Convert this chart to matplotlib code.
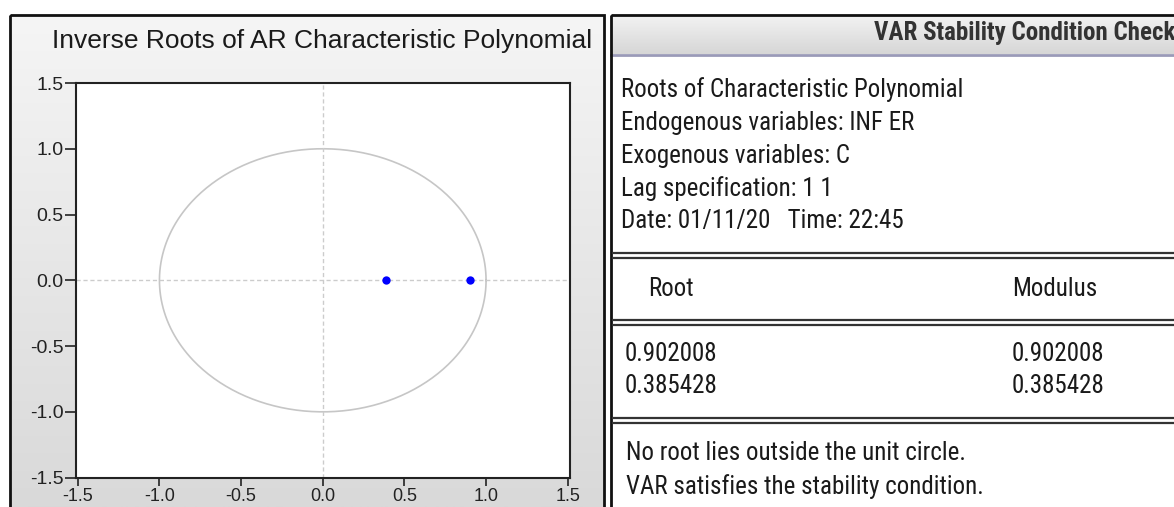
import numpy as np
import matplotlib
matplotlib.use('Agg')
from matplotlib import pyplot as plt
from matplotlib import font_manager
from matplotlib.colors import LinearSegmentedColormap
from matplotlib.patches import Rectangle

# inverse roots of the AR characteristic polynomial (real, imag)
root_re = [0.902008, 0.385428]
root_im = [0.0, 0.0]
modulus = [0.902008, 0.385428]
ticks = [-1.5, -1.0, -0.5, 0.0, 0.5, 1.0, 1.5]

info_lines = ['Roots of Characteristic Polynomial',
              'Endogenous variables: INF ER',
              'Exogenous variables: C',
              'Lag specification: 1 1',
              'Date: 01/11/20   Time: 22:45']
foot_lines = ['No root lies outside the unit circle.',
              'VAR satisfies the stability condition.']


# look for a condensed sans face for the EViews table (Arial Narrow look-alike)
def find_narrow(bold=False):
    pick = None
    for f in font_manager.fontManager.ttflist:
        if f.style != 'normal':
            continue
        isbold = f.weight in ('bold', 700, 'semibold', 600)
        if isbold != bold:
            continue
        cond = f.stretch in ('condensed', 'semi-condensed', 'extra-condensed', 375, 300)
        if f.name in ('Liberation Sans Narrow', 'Arial Narrow', 'Roboto Condensed') or \
           (cond and f.name in ('Roboto', 'Open Sans', 'Noto Sans', 'DejaVu Sans', 'Liberation Sans')):
            if pick is None or f.name.startswith('Liberation') or f.name.startswith('Roboto'):
                pick = f.fname
    return pick


nf = find_narrow()
nb = find_narrow(True) or nf


def narrow(size, bold=False):
    path = nb if bold else nf
    if path:
        return font_manager.FontProperties(fname=path, size=size)
    return font_manager.FontProperties(family='Liberation Sans', size=size,
                                       weight='bold' if bold else 'normal')


W, H = 1174, 507
fig = plt.figure(figsize=(W / 100, H / 100), dpi=100)
fig.patch.set_facecolor('white')

# pixel-space helper axes for the screenshot frames and table text
bg = fig.add_axes([0, 0, 1, 1])
bg.set_xlim(0, W)
bg.set_ylim(H, 0)
bg.axis('off')

# left panel: grey gradient inside a black frame
grad = np.linspace(0, 1, 256).reshape(-1, 1)
bg.imshow(grad, cmap=LinearSegmentedColormap.from_list('g', ['#f5f5f5', '#d9d9d9']),
          extent=(10, 604, H, 15), aspect='auto', zorder=0)
bg.add_patch(Rectangle((10, 15), 594, 500, fill=False, ec='#111111', lw=2, zorder=2))

# right panel: header bar then white body
bg.imshow(grad, cmap=LinearSegmentedColormap.from_list('h', ['#f2f2f2', '#d6d6d6']),
          extent=(611, W, 54, 16), aspect='auto', zorder=0)
bg.plot([611, W], [55, 55], color='#9a9ab8', lw=2, zorder=2)
bg.add_patch(Rectangle((611, 15), 600, 500, fill=False, ec='#111111', lw=2, zorder=2))
bg.text(1176, 33, 'VAR Stability Condition Check', fontproperties=narrow(18, True),
        color='#333333', va='center', ha='right', clip_on=False)

fs = 18
for i, s in enumerate(info_lines):
    bg.text(621, 90 + i * 32.8, s, fontproperties=narrow(fs), color='#1a1a1a', va='center')

for y in [253, 258, 320, 325, 418, 423]:
    bg.plot([613, W], [y, y], color='#333333', lw=1.6)

bg.text(648, 289, 'Root', fontproperties=narrow(fs), color='#1a1a1a', va='center')
bg.text(1012, 289, 'Modulus', fontproperties=narrow(fs), color='#1a1a1a', va='center')
for i in range(len(root_re)):
    bg.text(625, 354 + i * 32, f'{root_re[i]:.6f}', fontproperties=narrow(fs),
            color='#1a1a1a', va='center')
    bg.text(1012, 354 + i * 32, f'{modulus[i]:.6f}', fontproperties=narrow(fs),
            color='#1a1a1a', va='center')
for i, s in enumerate(foot_lines):
    bg.text(626, 453 + i * 34, s, fontproperties=narrow(fs), color='#1a1a1a', va='center')

# the unit circle plot
ax = fig.add_axes([76 / W, 1 - 478 / H, (570 - 76) / W, (478 - 83) / H])
ax.set_facecolor('white')
t = np.linspace(0, 2 * np.pi, 400)
ax.plot(np.cos(t), np.sin(t), color='#c6c6c6', lw=1.2)
ax.axhline(0, color='#cccccc', lw=1, ls=(0, (3, 2)))
ax.axvline(0, color='#cccccc', lw=1, ls=(0, (3, 2)))
ax.plot(root_re, root_im, 'o', color='#0000ff', ms=6, mec='none', zorder=3)
ax.set_xlim(-1.511, 1.514)
ax.set_ylim(-1.503, 1.5)
ax.set_xticks(ticks)
ax.set_yticks(ticks)
ax.set_xticklabels([f'{v:.1f}' for v in ticks])
ax.set_yticklabels([f'{v:.1f}' for v in ticks])
ax.tick_params(direction='out', length=8, width=1.2, labelsize=14, colors='#222222',
               labelfontfamily='Liberation Sans', pad=1)
ax.tick_params(axis='x', length=6, pad=1, labelsize=13)
for s in ax.spines.values():
    s.set_color('#222222')
    s.set_linewidth(1.5)

fig.text(322 / W, 1 - 41 / H, 'Inverse Roots of AR Characteristic Polynomial',
         family='Liberation Sans', fontsize=19, color='#1a1a1a', ha='center', va='center')

fig.savefig('out.png', dpi=100)
